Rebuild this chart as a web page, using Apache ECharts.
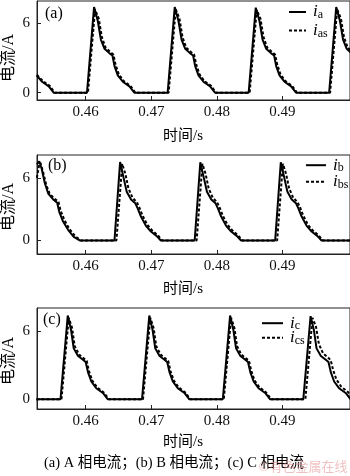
<!DOCTYPE html>
<html>
<head>
<meta charset="utf-8">
<script src="https://cdn.jsdelivr.net/npm/echarts@6/dist/echarts.min.js"></script>
<style>
html,body{margin:0;padding:0;background:#fff;}
#c{width:350px;height:476px;}
</style>
</head>
<body>
<div id="c"></div>
<script>
// ---- data (time in s, current in A) ----
const xMin = 0.45258, xMax = 0.50030;
const xTicks = [0.46, 0.47, 0.48, 0.49];
const yTicks = [0, 6];

const iaData = [
  [0.45255,1.47],[0.45336,0.95],[0.45437,0.55],[0.45512,0],
  [0.46020,0],[0.46128,7.4],[0.46185,6.2],[0.46232,4.6],[0.46288,3.8],[0.46364,3.4],[0.46408,3.22],[0.46440,2.3],[0.46490,1.5],[0.46566,0.95],[0.46667,0.55],[0.46742,0],
  [0.47250,0],[0.47358,7.4],[0.47415,6.2],[0.47462,4.6],[0.47518,3.8],[0.47594,3.4],[0.47638,3.22],[0.47670,2.3],[0.47720,1.5],[0.47796,0.95],[0.47897,0.55],[0.47972,0],
  [0.48485,0],[0.48593,7.35],[0.48650,6.2],[0.48697,4.6],[0.48753,3.8],[0.48829,3.4],[0.48873,3.22],[0.48905,2.3],[0.48955,1.5],[0.49031,0.95],[0.49132,0.55],[0.49207,0],
  [0.49712,0],[0.49820,7.4],[0.49877,6.2],[0.49924,4.6],[0.49980,3.8],[0.50056,3.4]
];
const iasData = [
  [0.45255,1.55],[0.45351,1.0],[0.45452,0.6],[0.45527,0],
  [0.46035,0],[0.46143,7.2],[0.46200,6.4],[0.46247,4.8],[0.46303,3.9],[0.46379,3.5],[0.46423,3.3],[0.46455,2.45],[0.46505,1.6],[0.46581,1.0],[0.46682,0.6],[0.46757,0],
  [0.47265,0],[0.47373,7.2],[0.47430,6.4],[0.47477,4.8],[0.47533,3.9],[0.47609,3.5],[0.47653,3.3],[0.47685,2.45],[0.47735,1.6],[0.47811,1.0],[0.47912,0.6],[0.47987,0],
  [0.48500,0],[0.48608,7.15],[0.48665,6.4],[0.48712,4.8],[0.48768,3.9],[0.48844,3.5],[0.48888,3.3],[0.48920,2.45],[0.48970,1.6],[0.49046,1.0],[0.49147,0.6],[0.49222,0],
  [0.49727,0],[0.49835,7.2],[0.49892,6.4],[0.49939,4.8],[0.49995,3.9],[0.50071,3.5]
];
const ibData = [
  [0.45255,7.3],[0.45292,7.6],[0.45328,6.9],[0.45379,5.47],[0.45429,4.5],[0.45505,3.94],[0.45566,3.62],[0.45596,2.77],[0.45656,1.81],[0.45732,1.02],[0.45818,0.35],[0.45909,0],
  [0.46439,0],[0.46525,7.52],[0.46575,6.1],[0.46626,4.67],[0.46692,3.94],[0.46757,3.56],[0.46793,3.08],[0.46843,2.29],[0.46919,1.40],[0.46995,0.86],[0.47080,0.44],[0.47146,0],
  [0.47662,0],[0.47748,7.5],[0.47798,6.1],[0.47849,4.67],[0.47915,3.94],[0.47980,3.56],[0.48016,3.08],[0.48066,2.29],[0.48142,1.40],[0.48218,0.86],[0.48303,0.44],[0.48369,0],
  [0.48889,0],[0.48975,7.5],[0.49025,6.1],[0.49076,4.67],[0.49142,3.94],[0.49207,3.56],[0.49243,3.08],[0.49293,2.29],[0.49369,1.40],[0.49445,0.86],[0.49530,0.44],[0.49596,0],[0.50040,0]
];
const ibsData = [
  [0.45255,6.0],[0.45290,7.2],[0.45310,7.45],[0.45350,6.6],[0.45400,5.3],[0.45450,4.5],[0.45525,4.0],[0.45586,3.7],[0.45616,2.9],[0.45676,1.95],[0.45752,1.1],[0.45838,0.42],[0.45929,0],
  [0.46469,0],[0.46557,7.35],[0.46605,6.4],[0.46652,5.0],[0.46714,4.1],[0.46777,3.7],[0.46813,3.25],[0.46863,2.45],[0.46939,1.5],[0.47015,0.95],[0.47100,0.5],[0.47166,0],
  [0.47692,0],[0.47780,7.35],[0.47828,6.4],[0.47875,5.0],[0.47937,4.1],[0.48000,3.7],[0.48036,3.25],[0.48086,2.45],[0.48162,1.5],[0.48238,0.95],[0.48323,0.5],[0.48389,0],
  [0.48919,0],[0.49007,7.35],[0.49055,6.4],[0.49102,5.0],[0.49164,4.1],[0.49227,3.7],[0.49263,3.25],[0.49313,2.45],[0.49389,1.5],[0.49465,0.95],[0.49550,0.5],[0.49616,0],[0.50040,0]
];
const icData = [
  [0.45250,0],
  [0.45616,0],[0.45727,7.4],[0.45778,6.1],[0.45818,4.5],[0.45884,3.83],[0.45959,3.5],[0.46000,3.29],[0.46035,2.4],[0.46086,1.57],[0.46161,0.98],[0.46262,0.56],[0.46338,0],
  [0.46859,0],[0.46970,7.4],[0.47021,6.1],[0.47061,4.5],[0.47127,3.83],[0.47202,3.5],[0.47243,3.29],[0.47278,2.4],[0.47329,1.57],[0.47404,0.98],[0.47505,0.56],[0.47581,0],
  [0.48091,0],[0.48202,7.4],[0.48253,6.1],[0.48293,4.5],[0.48359,3.83],[0.48434,3.5],[0.48475,3.29],[0.48510,2.4],[0.48561,1.57],[0.48636,0.98],[0.48737,0.56],[0.48813,0],
  [0.49318,0],[0.49429,7.35],[0.49480,6.1],[0.49520,4.5],[0.49586,3.83],[0.49661,3.5],[0.49702,3.29],[0.49737,2.4],[0.49788,1.57],[0.49863,0.98],[0.49964,0.56],[0.50040,0]
];
const icsData = [
  [0.45250,0],
  [0.45631,0],[0.45742,7.2],[0.45793,6.3],[0.45833,4.7],[0.45899,3.95],[0.45974,3.6],[0.46015,3.4],[0.46050,2.5],[0.46101,1.65],[0.46176,1.05],[0.46277,0.6],[0.46353,0],
  [0.46874,0],[0.46985,7.2],[0.47036,6.3],[0.47076,4.7],[0.47142,3.95],[0.47217,3.6],[0.47258,3.4],[0.47293,2.5],[0.47344,1.65],[0.47419,1.05],[0.47520,0.6],[0.47596,0],
  [0.48106,0],[0.48217,7.2],[0.48268,6.3],[0.48308,4.7],[0.48374,3.95],[0.48449,3.6],[0.48490,3.4],[0.48525,2.5],[0.48576,1.65],[0.48651,1.05],[0.48752,0.6],[0.48828,0],
  [0.49350,0],[0.49458,7.2],[0.49512,6.4],[0.49555,4.9],[0.49620,4.05],[0.49695,3.7],[0.49736,3.45],[0.49772,2.6],[0.49823,1.75],[0.49898,1.1],[0.49999,0.65],[0.50075,0]
];

const panelLabels = ['(a)', '(b)', '(c)'];
const legendMain = ['a', 'as', 'b', 'bs', 'c', 'cs'];
const xTitle = '时间/s';
const yTitle = '电流/A';
const caption = '(a) A 相电流；(b) B 相电流；(c) C 相电流';
const watermark = '©有色金属在线';

// ---- layout ----
const SERIF = '"Liberation Serif","Noto Sans CJK SC",serif';
const grids = [
  {left:37, top:1, width:315, height:99, yMin:-0.63, yMax:7.93},
  {left:37, top:155, width:315, height:99, yMin:-1.3, yMax:8.2},
  {left:37, top:308, width:315, height:101, yMin:-0.86, yMax:8.07}
];
const legendPos = [
  {left:288, w:17, tops:[3.5, 22]},
  {left:305, w:20, tops:[156.7, 173.3]},
  {left:261, w:21, tops:[314.7, 329.3]}
];
const panelLabelPos = [[45,14.5],[48,167],[43,321]];
const xTitleY = [136, 289, 442.5];
const yTitleY = [58, 207, 361];

const seriesData = [[iaData, iasData],[ibData, ibsData],[icData, icsData]];

const option = {
  animation: false,
  backgroundColor: '#fff',
  grid: [], xAxis: [], yAxis: [], series: [], legend: [], graphic: []
};

grids.forEach((g, i) => {
  option.grid.push({left:g.left, top:g.top, width:g.width, height:g.height,
    show:true, borderColor:'#222', borderWidth:1, containLabel:false});
  option.xAxis.push({
    type:'value', gridIndex:i, min:xMin, max:xMax,
    axisLine:{show:true, onZero:false, lineStyle:{color:'#222', width:1}},
    axisTick:{show:true, inside:true, length:4, customValues:xTicks, lineStyle:{color:'#222'}},
    axisLabel:{show:true, customValues:xTicks, margin:5, color:'#111', fontSize:15, fontFamily:SERIF,
      formatter: v => v.toFixed(2)},
    splitLine:{show:false}
  });
  option.yAxis.push({
    type:'value', gridIndex:i, min:g.yMin, max:g.yMax,
    axisLine:{show:true, onZero:false, lineStyle:{color:'#222', width:1}},
    axisTick:{show:true, inside:true, length:4, customValues:yTicks, lineStyle:{color:'#222'}},
    axisLabel:{show:true, customValues:yTicks, margin:7, color:'#111', fontSize:15, fontFamily:SERIF},
    splitLine:{show:false}
  });
  const names = [legendMain[2*i], legendMain[2*i+1]];
  [0,1].forEach(k => {
    option.series.push({
      type:'line', name:'i' + names[k], xAxisIndex:i, yAxisIndex:i,
      data: seriesData[i][k], symbol:'none', clip:true,
      lineStyle:{color:'#000', width:2, type: k === 0 ? 'solid' : [3,2]},
      itemStyle:{color:'#000'},
      z: k === 0 ? 2 : 3
    });
    const lp = legendPos[i];
    option.legend.push({
      data:['i' + names[k]], left:lp.left, top:lp.tops[k], padding:0,
      itemWidth:lp.w, itemHeight:10,
      itemStyle:{opacity:0},
      lineStyle:{color:'#000', width:2, type: k === 0 ? 'solid' : [3,2], opacity:1},
      formatter: n => '{i|i}{s|' + n.slice(1) + '}',
      textStyle:{color:'#000', padding:[0,0,0,2], rich:{
        i:{fontFamily:SERIF, fontStyle:'italic', fontSize:17, lineHeight:18, color:'#000'},
        s:{fontFamily:SERIF, fontSize:12, lineHeight:10, verticalAlign:'bottom', color:'#000'}
      }}
    });
  });
  option.graphic.push({type:'text', left:panelLabelPos[i][0], top:panelLabelPos[i][1]-9,
    style:{text:panelLabels[i], font:'16px ' + SERIF, fill:'#000'}});
  option.graphic.push({type:'text', x:183, y:xTitleY[i],
    style:{text:xTitle, font:'15px ' + SERIF, fill:'#000', align:'center', verticalAlign:'middle'}});
  option.graphic.push({type:'text', x:9, y:yTitleY[i], rotation:Math.PI/2,
    style:{text:yTitle, font:'16px ' + SERIF, fill:'#000', align:'center', verticalAlign:'middle'}});
});

option.graphic.push({type:'text', x:174, y:463,
  style:{text:caption, font:'14.5px ' + SERIF, fill:'#000', align:'center', verticalAlign:'middle'}});
option.graphic.push({type:'text', x:303, y:466,
  style:{text:watermark, font:'13px "Noto Sans CJK SC",sans-serif', fill:'rgba(225,140,140,0.55)', align:'center', verticalAlign:'middle'}});

const chart = echarts.init(document.getElementById('c'), null, {renderer:'canvas'});
chart.setOption(option);
</script>
</body>
</html>
